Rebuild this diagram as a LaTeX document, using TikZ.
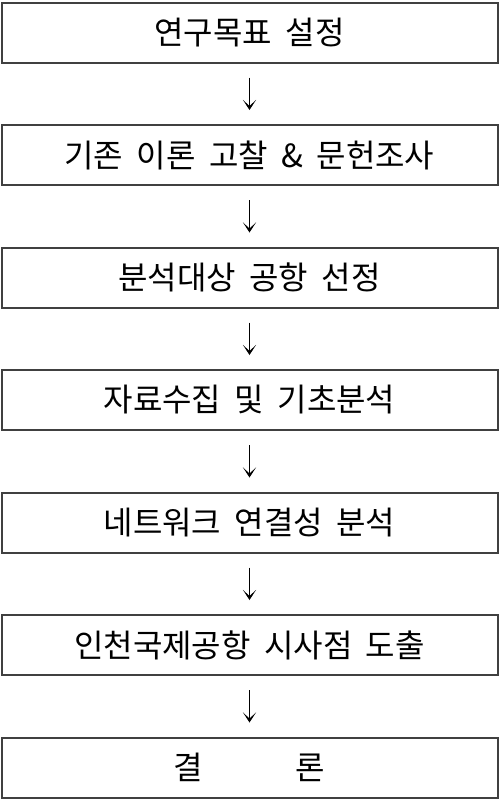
\documentclass[tikz,border=0pt]{standalone}
\usepackage{fontspec}
\newfontfamily\kofont{Noto Sans CJK KR}
\newcommand{\stagefont}{\kofont\fontsize{32}{36}\selectfont\spaceskip=0.42em plus 0pt minus 0pt\relax}
\usetikzlibrary{arrows.meta,positioning}

\begin{document}
\begin{tikzpicture}[x=1pt,y=1pt]
\tikzset{
  stagebox/.style={rectangle,draw=black!75,line width=2pt,minimum width=496pt,minimum height=60pt,inner sep=0pt,font=\stagefont},
  stepedge/.style={draw=black,line width=1.4pt,shorten <=14pt,shorten >=14pt,-{Stealth[length=10pt,width=13pt,inset=6pt]}}
}
\useasboundingbox (0,0) rectangle (499,-801);
\node[stagebox] (s1) at (249.5,-32.5) {연구목표 설정};
\node[stagebox] (s2) at (249.5,-155) {기존 이론 고찰 \& 문헌조사};
\node[stagebox] (s3) at (249.5,-277.5) {분석대상 공항 선정};
\node[stagebox] (s4) at (249.5,-400) {자료수집 및 기초분석};
\node[stagebox] (s5) at (249.5,-522.5) {네트워크 연결성 분석};
\node[stagebox] (s6) at (249.5,-645) {인천국제공항 시사점 도출};
\node[stagebox] (s7) at (249.5,-767.5) {결\hspace{93pt}론};
\draw[stepedge] (s1) -- (s2);
\draw[stepedge] (s2) -- (s3);
\draw[stepedge] (s3) -- (s4);
\draw[stepedge] (s4) -- (s5);
\draw[stepedge] (s5) -- (s6);
\draw[stepedge] (s6) -- (s7);
\end{tikzpicture}
\end{document}
